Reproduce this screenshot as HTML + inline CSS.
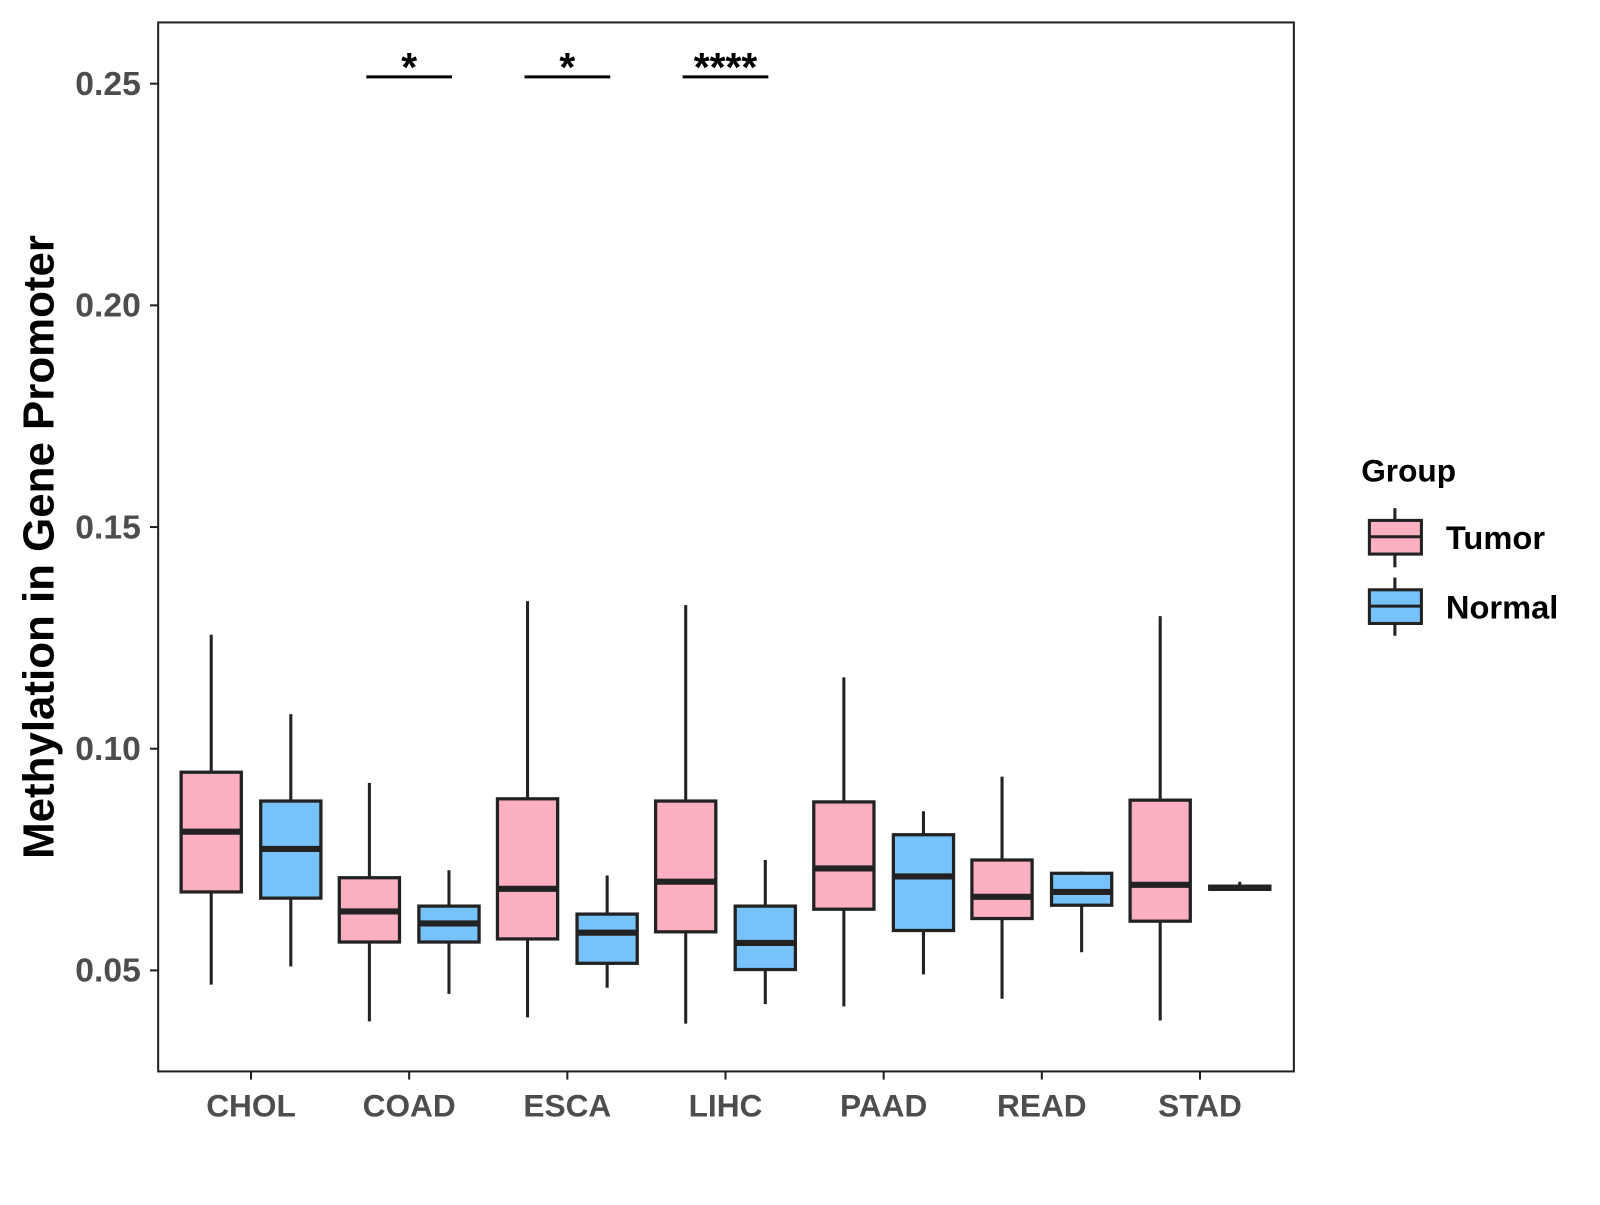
<!DOCTYPE html>
<html><head><meta charset="utf-8"><style>
body{margin:0;background:#fff}
svg text{font-family:"Liberation Sans",Arial,sans-serif;font-weight:bold}
</style></head><body>
<svg id="chart" width="1600" height="1200" viewBox="0 0 1600 1200">
<g transform="scale(1.0204)">
<rect x="155" y="22" width="1113" height="1028" fill="#fff" stroke="#222" stroke-width="2"/>
<g id="yaxis"></g>
<g id="xaxis"></g>
<g id="boxes"></g>
<g id="sig"></g>
<text x="38" y="536" transform="rotate(-90 38 536)" text-anchor="middle" dominant-baseline="central" font-size="43" fill="#000">Methylation in Gene Promoter</text>
<g>
<text x="1334" y="472" font-size="31" fill="#000">Group</text>
<g>
<line x1="1367" y1="498" x2="1367" y2="556" stroke="#222" stroke-width="3"/>
<rect x="1342" y="510" width="51" height="33" fill="#FCB0C2" stroke="#222" stroke-width="3"/>
<line x1="1342" y1="526" x2="1393" y2="526" stroke="#222" stroke-width="3"/>
<text x="1417" y="538" font-size="32" fill="#000">Tumor</text></g>
<g>
<line x1="1367" y1="566" x2="1367" y2="623" stroke="#222" stroke-width="3"/>
<rect x="1342" y="578" width="51" height="33" fill="#77C2F8" stroke="#222" stroke-width="3"/>
<line x1="1342" y1="594" x2="1393" y2="594" stroke="#222" stroke-width="3"/>
<text x="1417" y="606" font-size="32" fill="#000">Normal</text></g>
</g>
</g>
</svg>
<script>
const categories=["CHOL","COAD","ESCA","LIHC","PAAD","READ","STAD"];
// [low, q1, median, q3, high]
const tumorStats=[[0.0468,0.0677,0.0813,0.0947,0.1257],[0.0385,0.0564,0.0633,0.0709,0.0923],[0.0394,0.0571,0.0684,0.0887,0.1333],[0.0380,0.0587,0.0700,0.0882,0.1324],[0.0419,0.0638,0.0730,0.0880,0.1161],[0.0436,0.0617,0.0666,0.0749,0.0937],[0.0387,0.0611,0.0693,0.0884,0.1299]];
const normalStats=[[0.0509,0.0663,0.0774,0.0882,0.1078],[0.0447,0.0564,0.0606,0.0645,0.0726],[0.0461,0.0516,0.0585,0.0627,0.0714],[0.0424,0.0502,0.0562,0.0645,0.0749],[0.0491,0.0590,0.0712,0.0806,0.0859],[0.0541,0.0647,0.0677,0.0719,0.0723],[0.0680,0.0683,0.0686,0.0690,0.0700]];
const yTicks=[0.05,0.10,0.15,0.20,0.25];
const yTickLabels=["0.05","0.10","0.15","0.20","0.25"];
const sigCategories=["COAD","ESCA","LIHC"];
const sigLabels=["*","*","****"];
const sigLevel=0.252;

const NS="http://www.w3.org/2000/svg";
const y=v=>82+(0.25-v)*4345;
const x=i=>246+i*155;
function mk(tag,attrs,parent){const e=document.createElementNS(NS,tag);for(const k in attrs)e.setAttribute(k,attrs[k]);parent.appendChild(e);return e;}
const ya=document.getElementById('yaxis'),xa=document.getElementById('xaxis'),bx=document.getElementById('boxes'),sg=document.getElementById('sig');
yTicks.forEach((t,i)=>{
 const l=mk('line',{x1:147,x2:155,y1:y(t),y2:y(t),stroke:'#222','stroke-width':2},ya);
 
 
 const tx=mk('text',{x:138,y:y(t)+11,'text-anchor':'end','font-size':33,fill:'#4d4d4d'},ya);
 tx.textContent=yTickLabels[i];
 
 
});
categories.forEach((c,i)=>{
 const l=mk('line',{x1:x(i),x2:x(i),y1:1050,y2:1058,stroke:'#222','stroke-width':2},xa);
 
 
 const tx=mk('text',{x:x(i),y:1094,'text-anchor':'middle','font-size':31,fill:'#4d4d4d'},xa);
 tx.textContent=c;
 
 
});
function box(cx,s,fill,name){
 const g=mk('g',{},bx);
 
 
 mk('line',{x1:cx,x2:cx,y1:y(s[0]),y2:y(s[4]),stroke:'#222','stroke-width':3},g);
 mk('rect',{x:cx-29.5,y:y(s[3]),width:59,height:Math.max(y(s[1])-y(s[3]),1),fill:fill,stroke:'#222','stroke-width':3.2},g);
 mk('line',{x1:cx-29.5,x2:cx+29.5,y1:y(s[2]),y2:y(s[2]),stroke:'#222','stroke-width':6},g);
}
categories.forEach((c,i)=>{
 box(x(i)-39,tumorStats[i],'#FCB0C2','box-tumor-'+c.toLowerCase());
 box(x(i)+39,normalStats[i],'#77C2F8','box-normal-'+c.toLowerCase());
});
sigCategories.forEach((c,j)=>{
 const i=categories.indexOf(c);
 const l=mk('line',{x1:x(i)-42,x2:x(i)+42,y1:y(sigLevel)+2,y2:y(sigLevel)+2,stroke:'#000','stroke-width':3},sg);
 
 
 const t=mk('text',{x:x(i),y:y(sigLevel)+6,'text-anchor':'middle','font-size':40,fill:'#000'},sg);
 t.textContent=sigLabels[j];
 
 
});
</script>
</body></html>
